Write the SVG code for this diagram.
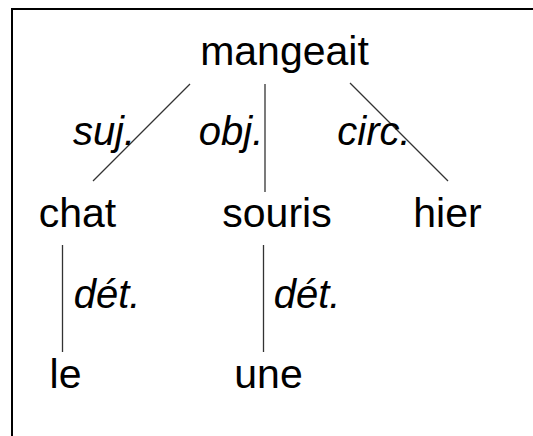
<svg xmlns="http://www.w3.org/2000/svg" width="533" height="436" viewBox="0 0 533 436">
<style>
.w{font-family:"Liberation Sans",Arial,sans-serif;font-size:41px;fill:#000;text-anchor:middle}
.l{font-family:"Liberation Sans",Arial,sans-serif;font-size:40px;font-style:italic;fill:#000;text-anchor:middle}
.e{stroke:#333;stroke-width:1.3;fill:none}
</style>
<rect x="0" y="0" width="533" height="436" fill="#fff"/>
<path d="M12 440 V9 H540" fill="none" stroke="#000" stroke-width="2"/>
<g id="connectors">
<line class="e" x1="190" y1="84" x2="93" y2="181"/>
<line class="e" x1="265" y1="84" x2="265" y2="192"/>
<line class="e" x1="350" y1="83" x2="448" y2="181"/>
<line class="e" x1="62.5" y1="245" x2="62.5" y2="352"/>
<line class="e" x1="263.5" y1="245" x2="263.5" y2="352"/>
<text class="l" x="104" y="145">suj.</text>
<text class="l" x="231" y="145">obj.</text>
<text class="l" x="374" y="145">circ.</text>
<text class="l" x="107" y="308">dét.</text>
<text class="l" x="307" y="308">dét.</text>
</g>
<g id="mangeait"><text class="w" x="284.5" y="65">mangeait</text></g>
<g id="chat"><text class="w" x="77.5" y="227">chat</text></g>
<g id="souris"><text class="w" x="277" y="227">souris</text></g>
<g id="hier"><text class="w" x="447.5" y="227">hier</text></g>
<g id="le"><text class="w" x="65.5" y="388">le</text></g>
<g id="une"><text class="w" x="268.5" y="388">une</text></g>
</svg>
